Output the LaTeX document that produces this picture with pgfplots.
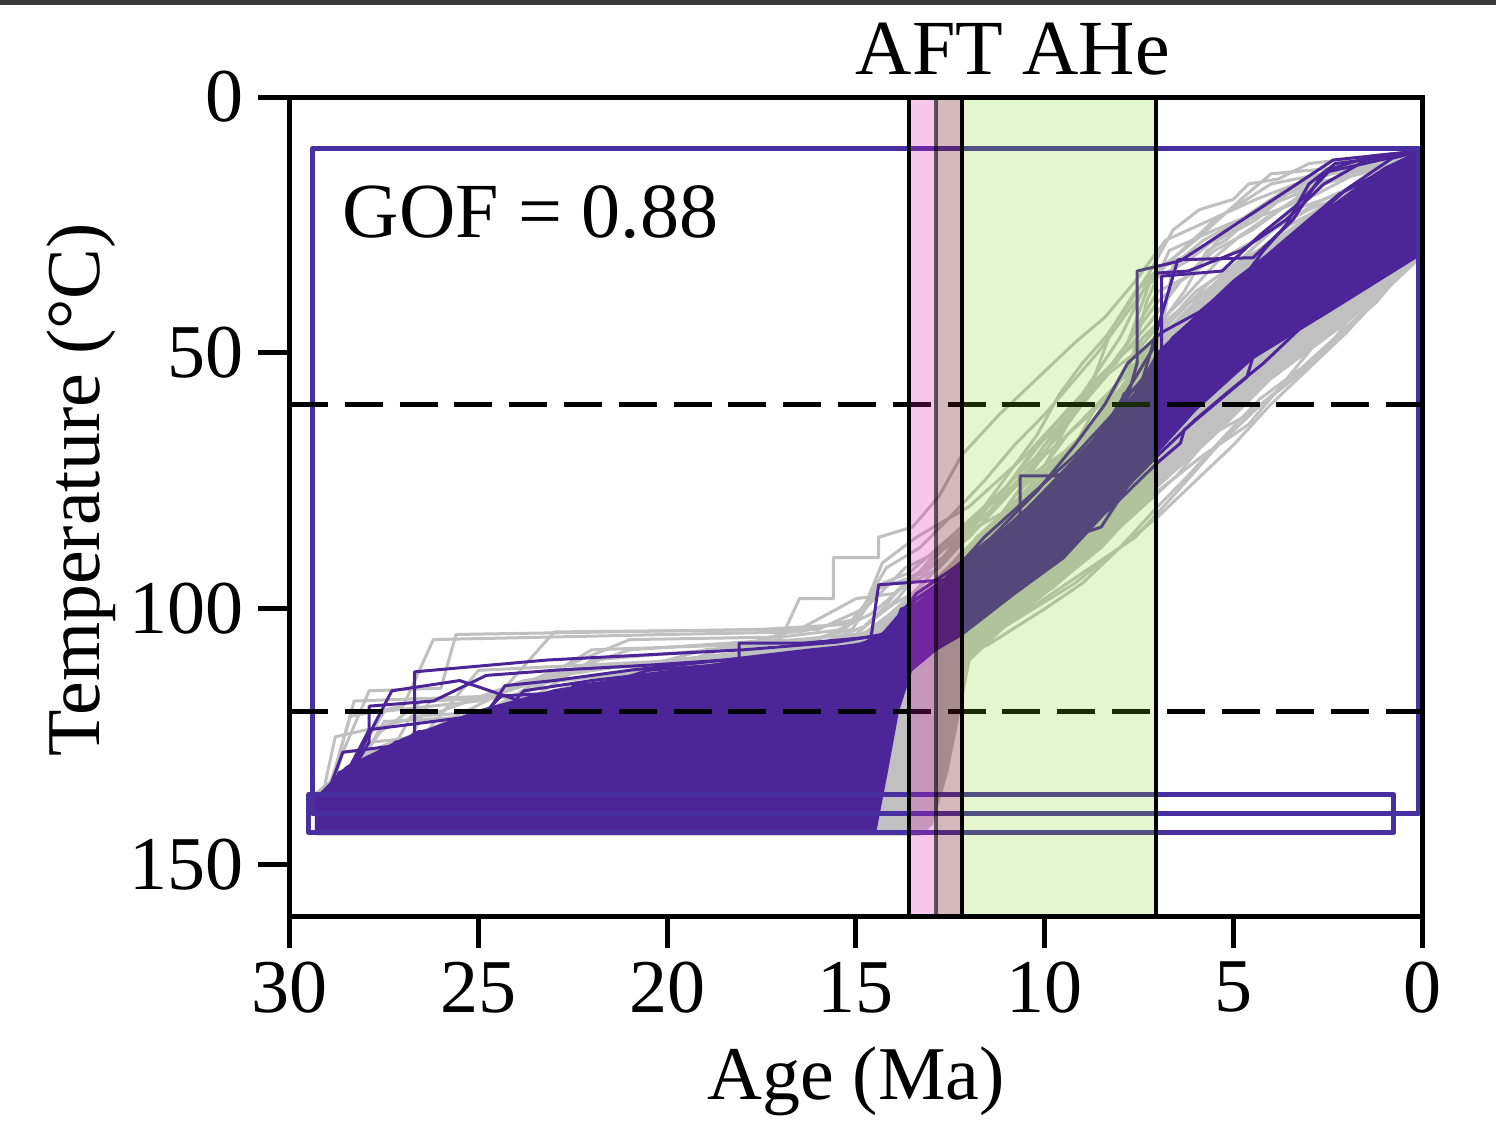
\documentclass[border=0pt]{standalone}
\usepackage{fontspec}
\setmainfont{Liberation Serif}
\usepackage{pgfplots}
\pgfplotsset{compat=1.18}
\definecolor{purp}{RGB}{76,38,153}
\definecolor{boxc}{RGB}{72,48,160}
\definecolor{grayl}{RGB}{192,192,192}
\definecolor{pinkb}{RGB}{215,35,175}
\definecolor{brownb}{RGB}{112,22,32}
\definecolor{greenb}{RGB}{120,210,5}
\definecolor{topbar}{RGB}{58,58,58}
\tikzset{
 gl/.style={draw=grayl, line width=0.75pt, line join=round, mark=none},
 pl/.style={draw=purp, line width=0.75pt, line join=round, mark=none},
}
\begin{document}
\begin{tikzpicture}[font=\fontsize{19}{23}\selectfont]
\begin{axis}[
  at={(0,0)}, anchor=south west,
  scale only axis, width=283pt, height=204.75pt,
  xmin=0, xmax=30, ymin=0, ymax=160,
  x dir=reverse, y dir=reverse,
  xtick={0,5,...,30}, ytick={0,50,100,150},
  xtick pos=left, ytick pos=left,
  tick align=outside,
  major tick length=8pt,
  axis line style={line width=1.25pt},
  every tick/.style={black, line width=1.25pt},
  tick label style={font=\fontsize{19}{23}\selectfont},
  /pgf/number format/assume math mode=true,
  clip=false, axis on top,
]
% ---- gray core
\addplot[gl, fill=grayl] coordinates {(29.3,136) (28,128) (25,120) (22,114) (19,110) (16.5,107) (15,106) (14.2,104) (13.6,98.5) (12.9,95) (12.2,89) (11,81) (10,73) (9,66) (8,57) (7.2,49) (6,40) (5,33) (3.5,26) (2,18) (0.5,12) (0,10.5)
 (0,31) (2,44) (4,55) (5.5,66) (7,76) (8.5,88) (10,97) (11,103) (12,110) (12.3,121) (12.6,132) (13.0,142) (13.3,144) (29.3,144)} -- cycle;
% ---- gray paths
\addplot[gl] coordinates {(29.3,140) (27.9,116) (26.0,115.5) (25.6,105) (17.5,104) (15.2,103) (14.3,95) (13.6,93) (12.5,86) (11.0,76) (9.5,62) (8.2,52) (7.0,40) (5.5,30) (4.5,26) (3.0,18) (0,10.5)};
\addplot[gl] coordinates {(29.2,142) (28.3,118) (24.5,117) (23.0,104.5) (16.0,104) (14.8,100) (14.3,91) (13.4,86) (12.0,80) (10.5,70) (9.0,58) (8.0,47) (7.2,35) (6.0,28) (4.8,20) (4.0,15) (2.5,14) (0,11)};
\addplot[gl] coordinates {(29.0,141) (27.5,122) (25.0,121) (22.0,108) (18.0,107) (16.5,104) (15.0,98) (14.0,97) (13.2,92) (11.5,80) (10.0,72) (9.1,60) (7.9,50) (6.5,42) (5.0,34) (3.5,25) (2.0,19) (0,12)};
\addplot[gl] coordinates {(29.1,139) (26.0,124) (22.5,112) (20.5,111) (17.0,110) (15.2,106) (14.5,104) (13.8,100) (12.8,98) (11.5,88) (10.0,78) (8.8,70) (7.4,58) (6.0,45) (4.5,38) (3.0,28) (1.5,20) (0,14)};
\addplot[gl] coordinates {(29.3,138) (27.0,130) (24.0,126) (20.0,118) (17.5,113) (16.0,110) (14.6,106) (14.0,104) (13.0,101) (12.0,96) (11.0,92) (9.5,85) (8.0,76) (7.0,70) (6.0,62) (5.0,56) (4.0,51) (2.5,43) (1.2,35) (0,28)};
\addplot[gl] coordinates {(29.2,143) (20.0,141) (15.5,140) (15.0,120) (14.2,113) (13.5,112) (12.5,110) (11.5,107) (10.0,100) (9.0,95) (8.0,88) (7.0,82) (6.0,75) (5.0,68) (4.0,60) (3.0,53) (2.0,46) (1.0,38) (0,30)};
\addplot[gl] coordinates {(29.0,142) (18.0,141) (16.0,139) (15.6,110) (14.2,108) (13.4,110) (12.6,106) (11.0,100) (9.8,96) (8.6,88) (7.4,80) (6.5,74) (5.6,66) (4.6,62) (3.6,56) (2.6,50) (1.6,40) (0,29)};
\addplot[gl] coordinates {(29.3,136) (26.5,128) (23.5,119) (21.0,114) (18.2,107) (15.0,105) (13.9,98) (13.0,90) (12.2,84) (11.2,78) (10.2,68) (9.4,63) (8.7,55) (8.2,45) (7.6,38) (6.8,33) (5.5,24) (4.0,17) (2.0,14) (0,12)};
\addplot[gl] coordinates {(29.1,140) (28.6,128) (27.2,127) (24.0,115) (21.5,113) (19.0,108) (16.0,106) (14.6,101) (13.8,96) (12.8,92) (11.8,84) (10.8,80) (9.6,72) (8.5,64) (7.2,56) (6.2,42) (5.2,35) (4.0,30) (2.7,22) (1.0,16) (0,13)};
\addplot[gl] coordinates {(29.2,141) (27.3,133) (25.5,131) (23.0,121) (20.0,119) (17.5,115) (15.5,112) (14.4,108) (13.6,105) (12.9,102) (12.0,98) (10.5,90) (9.0,82) (7.8,76) (6.8,68) (5.8,60) (4.8,55) (3.6,49) (2.2,40) (1.0,32) (0,27)};
\addplot[gl] coordinates {(29.0,139) (27.8,126) (26.5,125) (25.0,112) (19.5,110) (17.0,108) (15.0,107) (14.0,104) (13.2,100) (12.3,96) (11.4,90) (10.4,84) (9.2,74) (8.0,66) (7.0,60) (6.3,50) (5.3,44) (4.3,35) (3.3,30) (2.0,22) (0,15)};
\addplot[gl] coordinates {(29.2,143) (22.0,142) (16.5,141) (15.9,118) (14.0,112) (13.0,111) (12.4,108) (11.2,104) (10.0,98) (8.8,92) (7.6,86) (6.6,78) (5.4,68) (4.4,61) (3.4,55) (2.4,48) (1.2,40) (0.4,33) (0,30)};
\addplot[gl] coordinates {(29.1,142) (17.0,140) (15.3,138) (14.8,116) (13.9,113) (12.7,109) (11.6,103) (10.6,99) (9.4,90) (8.2,84) (7.0,77) (5.8,70) (4.6,64) (3.8,57) (2.8,48) (1.8,42) (0.8,35) (0,29)};
\addplot[gl] coordinates {(29.3,139) (26.0,128) (22.0,118) (18.5,113) (16.0,109) (14.8,105) (14.0,102) (12.9,96) (11.8,88) (10.8,80) (9.8,74) (8.8,66) (8.0,60) (7.3,40) (6.7,30) (5.5,26) (4.2,22) (3.2,17) (2.3,16) (1.2,14) (0,11)};
\addplot[gl] coordinates {(29.2,140) (25.0,125) (21.0,116) (17.0,110) (15.0,107.5) (14.2,103) (13.4,98) (12.4,92) (11.2,86) (10.0,78) (9.0,70) (8.0,62) (7.1,54) (6.6,33) (5.8,28) (4.8,24) (3.6,18) (2.4,15) (1.0,13) (0,11)};
\addplot[gl] coordinates {(29.3,141) (28.2,130) (27.0,128) (26.3,118) (23.5,117) (22.0,110) (18.0,107.5) (16.2,106) (15.1,104) (14.4,96) (13.2,93) (12.0,86) (11.0,78) (10.0,70) (9.1,64) (8.2,58) (7.4,47) (6.4,40) (5.4,32) (4.2,27) (3.0,22) (1.6,18) (0,13)};
\addplot[gl] coordinates {(29.0,142) (28.0,137) (26.8,121) (24.5,120) (22.8,112) (20.5,110.5) (18.0,108.5) (16.0,107) (14.8,103.5) (14.0,99) (13.0,95) (12.2,90) (11.4,84) (10.4,76) (9.4,66) (8.6,60) (7.8,54) (7.0,46) (6.0,38) (5.0,33) (3.8,25) (2.6,20) (1.2,16) (0,12)};
\addplot[gl] coordinates {(29.2,143) (24.0,142) (19.0,142) (16.8,141) (16.2,112) (14.6,110) (13.6,110.5) (12.5,108) (11.4,105) (10.3,100) (9.2,95) (8.0,88) (7.0,80) (6.2,74) (5.2,66) (4.3,59) (3.2,53) (2.0,45) (1.0,38) (0,31)};
\addplot[gl] coordinates {(29.1,139) (27.6,124) (26.5,118) (24.6,117) (21.0,106) (17.0,105.5) (15.3,104) (14.5,98) (13.7,92) (12.6,88) (11.6,82) (10.6,74) (9.6,66) (8.8,58) (7.8,48) (7.2,36) (6.2,32) (5.0,25) (4.0,20) (2.8,17) (1.6,15) (0,11)};
\addplot[gl] coordinates {(29.3,142) (28.0,136) (26.0,133) (24.2,129) (22.0,127) (20.0,123) (18.0,120) (16.0,116) (15.0,113) (14.3,111) (13.7,107) (13.0,104) (12.0,100) (11.0,95) (10.0,90) (9.0,84) (8.0,78) (7.0,72) (6.0,64) (5.0,58) (4.0,52) (3.0,46) (2.0,40) (1.0,34) (0,29)};
\addplot[gl] coordinates {(29.2,141) (27.5,120) (25.0,118) (21.0,108) (17.0,106) (16.5,98) (15.6,98) (15.6,90) (14.4,90) (14.4,86) (13.5,84) (12.8,78) (12.2,70) (11.2,62) (10.2,55) (9.2,48) (8.4,43) (7.6,36) (6.8,28) (5.6,24) (4.4,20) (3.0,16) (1.5,13) (0,11)};
\addplot[gl] coordinates {(29.2,140) (26.0,127) (21.5,116) (17.5,110) (15.0,106) (14.1,101) (13.2,95) (12.4,88) (11.6,80) (10.9,73) (10.2,66) (9.6,58) (9.0,52) (8.4,47) (7.9,42) (7.2,34) (6.6,26) (5.9,22) (5.0,20) (4.6,17) (3.8,16) (3.0,13) (1.8,12) (0,10.5)};
\addplot[gl] coordinates {(29.1,141) (25.5,124) (22.0,117) (18.5,111) (15.8,107) (14.5,104) (13.6,99) (12.7,94) (11.8,86) (11.2,82) (10.4,74) (9.7,66) (9.0,60) (8.3,54) (7.6,50) (6.9,44) (6.3,38) (5.7,30) (5.2,28) (4.6,24) (3.8,22) (2.8,19) (1.5,14) (0,11)};
\addplot[gl] coordinates {(29.3,139) (27.0,133) (23.0,122) (19.0,114) (16.2,109) (14.8,106) (13.9,100) (13.0,95) (12.0,88) (11.2,84) (10.8,78) (10.0,72) (9.2,68) (8.6,60) (7.8,54) (7.2,48) (6.4,42) (5.6,36) (4.8,32) (4.0,26) (3.4,22) (2.6,20) (1.4,16) (0,12)};
\addplot[gl] coordinates {(29.2,142) (24.0,128) (20.0,118) (16.8,111) (15.1,107.5) (14.3,104) (13.5,97) (12.6,90) (11.9,84) (11.3,78) (10.6,75) (10.0,68) (9.3,62) (8.8,56) (8.1,52) (7.5,44) (7.0,38) (6.2,35) (5.4,28) (4.4,24) (3.6,19) (2.6,15) (1.6,13) (0,10.5)};
\addplot[gl] coordinates {(29.0,140) (27.8,133) (26.0,131) (24.6,125) (21.5,121) (18.2,115) (16.0,111) (14.7,107) (13.8,103) (12.9,99) (12.0,93) (11.0,86) (10.0,80) (9.0,72) (8.2,66) (7.5,60) (6.9,55) (6.1,46) (5.4,40) (4.6,36) (3.9,30) (3.1,25) (2.4,22) (1.4,18) (0,13)};
\addplot[gl] coordinates {(29.2,141) (28.4,121) (27.0,119) (26.2,106) (20.0,105) (16.5,104.5) (15.0,102) (14.2,92) (13.3,88) (12.5,82) (11.6,75) (10.8,68) (10.0,62) (9.3,56) (8.6,50) (8.0,44) (7.4,38) (6.8,33) (6.0,30) (5.0,26) (4.0,21) (3.0,18) (2.0,15) (0,11)};
\addplot[gl] coordinates {(29.3,142) (28.8,125) (27.6,123) (26.0,120) (23.8,114) (21.0,111) (18.8,109.5) (16.4,107.5) (15.0,105) (14.3,100) (13.6,94) (12.7,90) (11.8,82) (11.0,76) (10.2,70) (9.4,62) (8.6,55) (7.9,50) (7.2,44) (6.4,36) (5.6,32) (4.8,27) (3.8,22) (2.6,17) (1.4,14) (0,11)};
% ---- purple core
\addplot[pl, fill=purp] coordinates {(29.3,137) (28.5,131) (27,125.5) (25,120) (23,116) (20,112.5) (18,110) (16.5,108.5) (15,107) (14.3,106) (13.6,100) (12.9,97) (12.2,91.5) (10.8,83) (8.5,65.5) (7.6,58) (7.0,50) (5.0,36) (3.4,27) (1.5,17) (0,10.5)
 (0,30.5) (2.5,42) (4.5,51) (6.0,61) (7.1,70) (8.5,82) (9.5,90) (10.8,97) (12.2,105) (12.9,108) (13.55,112) (13.9,120) (14.2,132) (14.5,143.5) (29.3,143.5)} -- cycle;
% ---- purple paths
\addplot[pl] coordinates {(29.2,141) (26.7,135) (26.7,112.3) (23.2,110) (18,108) (15.5,106.5) (14.3,105) (13.6,99) (12.9,96) (12.2,91) (11,84) (9.8,76) (8.6,67) (7.6,58) (7.0,51) (5.5,41) (4.0,31) (2.5,22) (1.2,15) (0,10.5)};
\addplot[pl] coordinates {(29.0,140) (27.3,116) (25.5,114) (23.5,119) (20.5,112) (17.0,110) (15.0,107.5) (14.2,106) (13.4,98) (12.4,93) (11.2,86) (10.0,77) (8.8,70) (7.8,60) (7.1,53) (6.0,44) (4.8,37) (3.5,30) (2.0,22) (0,11)};
\addplot[pl] coordinates {(29.2,142) (27.9,123.6) (24.1,120) (22.8,116) (20.8,113) (18.1,113) (18.1,106.7) (16.4,106.7) (14.6,105.5) (14.4,95.3) (12.6,94.3) (11.6,86) (10.4,78) (9.2,70) (8.2,62) (7.4,55) (6.6,47) (5.2,38) (3.8,29) (2.2,19) (0,10.5)};
\addplot[pl] coordinates {(29.1,141) (28.0,131) (25.5,128) (24.0,124) (21.5,122) (19.0,117) (17.0,112) (15.2,108) (14.0,104) (13.8,100) (12.9,98) (12.0,92) (10.65,82.6) (10.65,74) (9.7,74) (9.0,72) (8.0,64) (7.55,52) (7.55,34) (6.4,32) (2.35,12.3) (0,10.5)};
\addplot[pl] coordinates {(29.3,139) (26.0,130) (23.0,126) (20.0,121) (17.0,115) (15.0,110) (14.3,108) (13.9,104) (13.0,100) (12.2,95) (11.0,88) (10.0,80) (9.2,74) (8.4,66) (7.6,60) (6.47,31.8) (4.48,31.4) (3.42,24) (2.62,14.8) (0.13,10.7)};
\addplot[pl] coordinates {(29.2,143) (20.0,142) (16.0,141) (14.6,140) (14.3,110) (13.6,108) (12.9,106) (12.2,102) (11.0,96) (9.5,88) (8.2,80) (7.02,71.5) (6.4,67.6) (6.3,65) (4.64,54.7) (4.48,50.8) (0.13,30.5)};
\addplot[pl] coordinates {(29.1,142) (27.0,137) (24.0,132) (21.0,127) (18.0,121) (16.0,114) (14.8,110) (14.0,107) (13.2,102) (12.2,97) (11.4,94) (10.6,86) (9.7,90) (9.2,82) (8.5,78) (7.6,72) (7.1,62) (5.8,55) (4.5,45) (3.0,38) (1.5,30) (0,22)};
\addplot[pl] coordinates {(29.2,140) (28.6,128) (26.4,126) (24.5,121) (22.0,118) (19.2,116) (16.5,112) (15.2,109) (14.4,107) (13.5,103) (12.5,99) (11.2,93) (10.3,86) (9.4,80) (8.6,74) (7.9,58) (7.0,55) (6.0,46) (4.9,41) (3.6,33) (2.2,26) (1.0,19) (0,14)};
\addplot[pl] coordinates {(29.3,143) (22.0,142.5) (17.0,142) (14.9,141) (14.9,125) (14.5,112) (13.8,109) (13.0,104) (12.2,100) (11.0,93) (9.8,86) (8.6,77) (7.4,68) (6.2,57) (5.0,48) (3.8,40) (2.5,32) (1.2,24) (0,18)};
\addplot[pl] coordinates {(29.0,141) (23.0,140) (18.0,139) (15.5,139) (15.2,131) (14.6,115) (13.9,111) (13.1,106) (12.3,103) (11.2,97) (10.0,90) (8.8,83) (7.6,74) (6.6,65) (5.6,58) (4.5,50) (3.3,42) (2.0,34) (0.8,27) (0,25)};
\addplot[pl] coordinates {(29.2,142) (26.0,136) (23.0,130) (19.5,123) (17.0,117) (15.4,111) (14.6,108) (14.0,105) (13.2,100) (12.3,94) (11.3,88) (10.2,80) (9.2,72) (8.2,62) (7.03,48) (7.03,34.4) (6.2,34) (4.8,30) (3.6,24) (2.6,17) (1.4,12) (0,10.5)};
\addplot[pl] coordinates {(29.1,140) (27.7,129) (25.0,126) (23.8,116) (22.0,114) (18.5,111) (16.2,109) (14.8,107) (14.1,104) (13.4,97) (12.4,92) (11.4,86) (10.2,77) (9.2,68) (8.4,60) (7.8,52) (6.9,46) (5.9,42) (4.9,36) (3.8,30) (2.8,24) (1.6,18) (0.6,13) (0,11)};
\addplot[pl] coordinates {(29.3,142) (21.0,141) (16.5,140) (15.0,139) (14.7,116) (14.0,110) (13.2,107) (12.3,104) (11.2,98) (10.0,92) (9.3,86) (8.5,84) (7.8,76) (7.0,70) (6.0,63) (5.2,58) (4.2,52) (3.2,45) (2.2,40) (1.2,34) (0,28)};
\addplot[pl] coordinates {(29.2,141) (27.0,134) (24.6,131) (22.6,121) (20.3,118) (17.8,114) (16.0,110) (14.9,108) (14.2,106) (13.4,101) (12.6,96) (11.8,90) (10.8,84) (9.8,78) (8.8,71) (8.0,60) (7.5,56) (6.5,52) (5.6,44) (4.6,38) (3.6,30) (2.6,26) (1.8,20) (0.8,14) (0,10.5)};
\addplot[pl] coordinates {(29.1,141) (27.9,126) (27.9,119) (26.2,118) (24.8,113) (23.0,112) (20.5,111) (17.5,109.5) (15.6,108) (14.5,106.5) (13.8,102) (13.0,98) (12.2,93) (11.0,85) (9.8,77) (8.6,68) (7.6,60) (6.8,53) (5.6,43) (4.4,34) (3.2,26) (2.0,18) (0.8,12) (0,10.5)};
\addplot[pl] coordinates {(29.2,140) (27.2,126) (25.2,125) (24.3,115) (23.0,114) (21.0,112) (18.5,110) (16.2,108) (14.8,107) (14.1,104.5) (13.4,99) (12.6,95) (11.6,88) (10.4,80) (9.3,72) (8.3,64) (7.5,57) (6.7,50) (5.7,42) (4.6,35) (3.5,28) (2.3,21) (1.0,14) (0,10.5)};
\addplot[pl] coordinates {(29.0,142) (26.5,131) (24.6,128) (22.5,120) (22.5,115) (19.8,113) (16.8,110.5) (15.3,109) (14.4,107) (13.7,101) (12.8,97) (12.0,92) (10.9,85) (9.6,76) (8.4,67) (7.5,60) (6.7,53) (5.6,45) (4.4,37) (3.4,30) (2.3,22) (1.2,15) (0,11)};
\addplot[pl] coordinates {(29.3,142) (28.7,132) (27.5,128) (26.6,124) (25.2,123) (24.4,117) (21.8,116) (19.4,114) (17.2,112) (15.4,109) (14.6,107.5) (13.9,103) (13.0,99) (12.1,94) (11.1,88) (10.0,80) (9.0,73) (8.1,66) (7.3,58) (6.4,51) (5.4,44) (4.2,36) (3.0,28) (1.8,20) (0.6,13) (0,10.5)};
\addplot[pl] coordinates {(29.2,141) (25.8,133) (22.4,125) (19.2,118) (16.6,112) (15.0,108.5) (14.2,105.5) (13.3,100) (12.4,95) (11.4,88) (10.3,81) (9.2,73) (8.2,65) (7.3,58) (6.9,50) (6.9,35) (5.3,34) (4.3,27) (3.3,21) (2.4,14) (1.3,11.5) (0,10.5)};
\addplot[pl] coordinates {(29.1,142) (25.0,131) (21.5,124) (18.0,116) (15.8,110.5) (14.6,107.5) (13.8,103) (12.9,98) (12.0,92) (10.9,85) (9.8,77) (8.8,70) (7.9,62) (7.2,56) (6.5,49) (5.8,44) (5.0,38) (4.2,30) (3.6,25) (3.0,17) (2.3,13) (1.2,12) (0,10.5)};
% ---- constraint boxes
\addplot[draw=boxc, line width=1.25pt, line join=round, mark=none] coordinates {(29.4,10) (0.1,10) (0.1,140) (29.4,140)} -- cycle;
\addplot[draw=boxc, line width=1.25pt, line join=round, mark=none] coordinates {(29.5,136.3) (0.75,136.3) (0.75,143.7) (29.5,143.7)} -- cycle;
% ---- dashed lines
\addplot[black, line width=1.25pt, dash pattern=on 9.5pt off 4.2pt, mark=none] coordinates {(30,60) (0,60)};
\addplot[black, line width=1.25pt, dash pattern=on 9.5pt off 4.2pt, mark=none] coordinates {(30,120) (0,120)};
% ---- bands
\addplot[draw=none, fill=pinkb, fill opacity=0.25] coordinates {(13.6,0) (12.88,0) (12.88,160) (13.6,160)} -- cycle;
\addplot[draw=none, fill=brownb, fill opacity=0.3] coordinates {(12.88,0) (12.2,0) (12.2,160) (12.88,160)} -- cycle;
\addplot[draw=none, fill=greenb, fill opacity=0.2] coordinates {(12.2,0) (7.05,0) (7.05,160) (12.2,160)} -- cycle;
\addplot[black, line width=1pt, mark=none] coordinates {(13.6,0) (13.6,160)};
\addplot[black, opacity=0.6, line width=1pt, mark=none] coordinates {(12.88,0) (12.88,160)};
\addplot[black, line width=1pt, mark=none] coordinates {(12.2,0) (12.2,160)};
\addplot[black, line width=1pt, mark=none] coordinates {(7.05,0) (7.05,160)};
% ---- texts
\node[anchor=base west, inner sep=0pt, font=\fontsize{19.5}{23}\selectfont] at (axis cs:28.62,27.5) {GOF = 0.88};
\node[anchor=base, inner sep=0pt, font=\fontsize{19.5}{23}\selectfont] at (axis cs:10.84,-4.3) {AFT AHe};
\node[anchor=base, inner sep=0pt] at (axis cs:15,195.9) {Age (Ma)};
\node[rotate=90, anchor=base, inner sep=0pt] at (axis cs:35.04,76.8) {Temperature (°C)};
\end{axis}
\fill[topbar] (-72.5pt,227.75pt) rectangle (301.5pt,229pt);
\pgfresetboundingbox
\path[use as bounding box] (-72.5pt,-56.75pt) rectangle (301.5pt,229pt);
\end{tikzpicture}
\end{document}
